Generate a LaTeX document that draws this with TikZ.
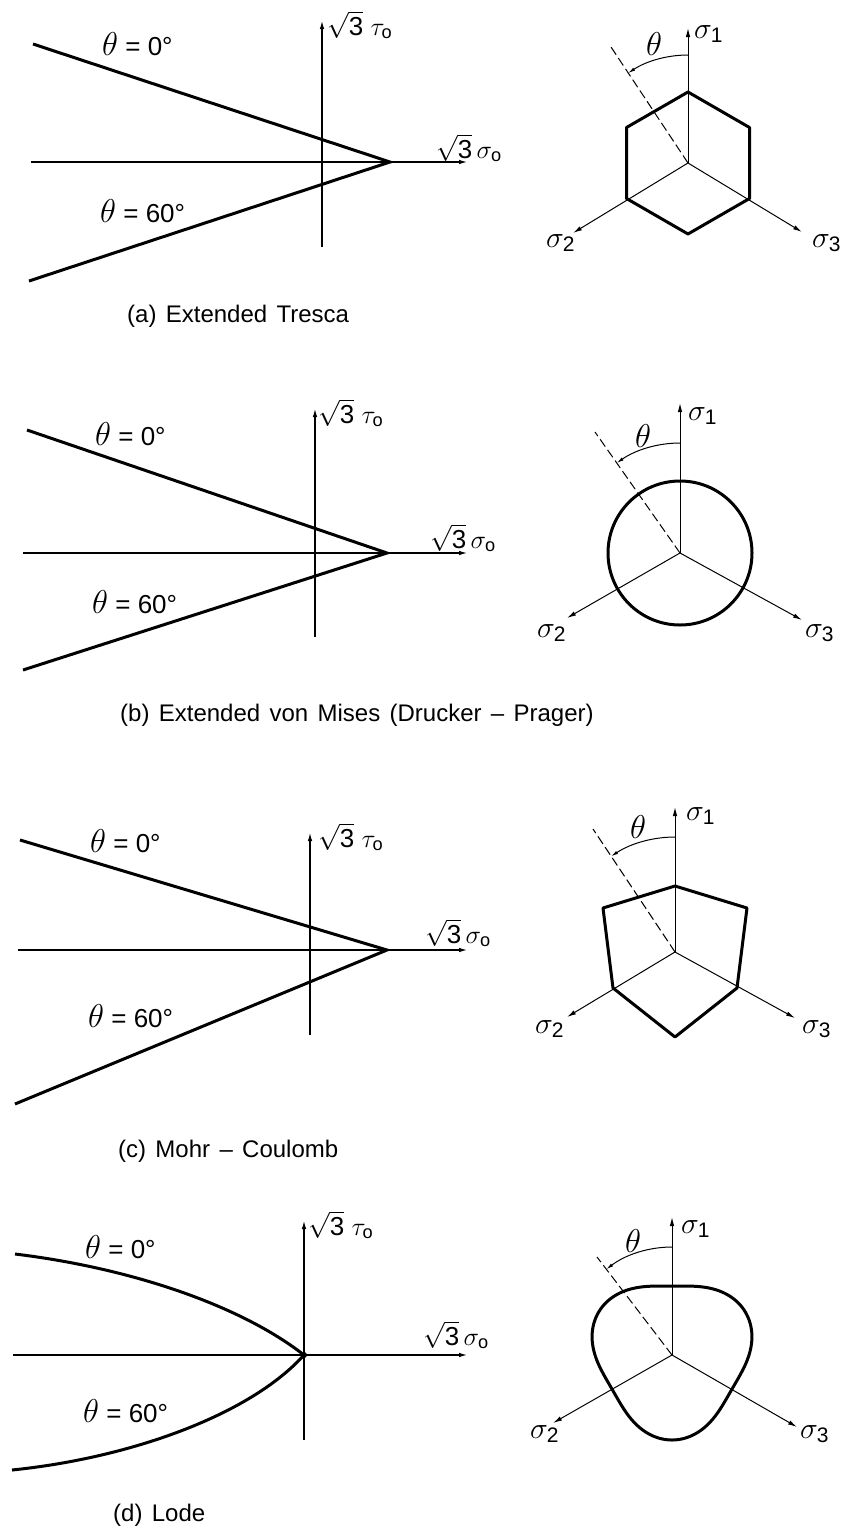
\RequirePackage{fix-cm}
\documentclass[tikz,border=0pt]{standalone}
\usepackage{fontspec}
\setmainfont{Liberation Sans}
\newfontfamily\capfont[WordSpace=1.4]{Liberation Sans}
\usetikzlibrary{arrows.meta}
\newcommand\bigth{{\fontsize{33}{33}\selectfont$\theta$}}
\begin{document}
\begin{tikzpicture}[x=1pt,y=-1pt,
  thickline/.style={line width=3pt},
  axisline/.style={line width=1.6pt},
  thinaxis/.style={line width=1pt},
  arrtip/.style={-{Latex[length=9pt,width=4.5pt]}},
  dashline/.style={line width=1pt, dash pattern=on 9pt off 4pt},
  lbltext/.style={inner sep=0pt, anchor=base west, font=\fontsize{26}{28}\selectfont},
  sigtext/.style={inner sep=0pt, anchor=base west, font=\fontsize{30}{30}\selectfont},
  thtext/.style={inner sep=0pt, anchor=base west, font=\fontsize{33}{33}\selectfont},
  captext/.style={inner sep=0pt, anchor=base west, font=\fontsize{24}{26}\selectfont\capfont},
]
\useasboundingbox (0,0) rectangle (841,1529);

% ================= (a) =================
\coordinate (Ha1) at (31,162); \coordinate (Ha2) at (468,162);
\coordinate (Va1) at (322,247); \coordinate (Va2) at (322,20);
\coordinate (Aa) at (390,162);
\coordinate (Ta0) at (33,44); \coordinate (Ta6) at (29,281);
\draw[axisline,arrtip] (Ha1) -- (Ha2);
\draw[axisline,arrtip] (Va1) -- (Va2);
\draw[thickline,line join=miter] (Ta0) -- (Aa) -- (Ta6);
\node[lbltext] (la0) at (102,55) {\bigth{} = 0°};
\node[lbltext] (la6) at (100,222) {\bigth{} = 60°};
\node[lbltext] (lat) at (327,35) {$\sqrt{\mathrm{3}}\;\tau_{\mathrm{o}}$};
\node[lbltext] (las) at (436,158) {$\sqrt{\mathrm{3}}\,\sigma_{\mathrm{o}}$};

\coordinate (Oa) at (688,163);
\coordinate (S1a) at (688,28); \coordinate (S2a) at (573,233); \coordinate (S3a) at (802,232);
\coordinate (Da) at (611,47);
\draw[thickline,line join=round] (688,92) -- (626.5,127.5) -- (626.5,198.5) -- (688,234) -- (749.5,198.5) -- (749.5,127.5) -- cycle;
\draw[thinaxis,arrtip] (Oa) -- (S1a);
\draw[thinaxis,arrtip] (Oa) -- (S2a);
\draw[thinaxis,arrtip] (Oa) -- (S3a);
\draw[dashline] (Oa) -- (Da);
\draw[thinaxis,-{Latex[length=7pt,width=3.5pt]}] (688,55) arc[start angle=-90, end angle=-123.6, radius=108];
\node[thtext] (tha) at (646,55) {$\theta$};
\node[sigtext] (s1a) at (694,38) {$\sigma_{\mathrm{1}}$};
\node[sigtext] (s2a) at (546,247) {$\sigma_{\mathrm{2}}$};
\node[sigtext] (s3a) at (812,247) {$\sigma_{\mathrm{3}}$};
\node[captext] (capa) at (127,322) {(a) Extended Tresca};

% ================= (b) =================
\coordinate (Hb1) at (23,553); \coordinate (Hb2) at (468,553);
\coordinate (Vb1) at (315,637); \coordinate (Vb2) at (315,408);
\coordinate (Ab) at (387,553);
\coordinate (Tb0) at (27,430); \coordinate (Tb6) at (23,670);
\draw[axisline,arrtip] (Hb1) -- (Hb2);
\draw[axisline,arrtip] (Vb1) -- (Vb2);
\draw[thickline,line join=miter] (Tb0) -- (Ab) -- (Tb6);
\node[lbltext] (lb0) at (95,445) {\bigth{} = 0°};
\node[lbltext] (lb6) at (92,613) {\bigth{} = 60°};
\node[lbltext] (lbt) at (318,423) {$\sqrt{\mathrm{3}}\;\tau_{\mathrm{o}}$};
\node[lbltext] (lbs) at (430,548) {$\sqrt{\mathrm{3}}\,\sigma_{\mathrm{o}}$};

\coordinate (Ob) at (680,553);
\coordinate (S1b) at (680,403); \coordinate (S2b) at (567,618); \coordinate (S3b) at (802,620);
\coordinate (Db) at (595,432);
\draw[thickline] (Ob) circle[radius=72];
\draw[thinaxis,arrtip] (Ob) -- (S1b);
\draw[thinaxis,arrtip] (Ob) -- (S2b);
\draw[thinaxis,arrtip] (Ob) -- (S3b);
\draw[dashline] (Ob) -- (Db);
\draw[thinaxis,-{Latex[length=7pt,width=3.5pt]}] (680,443) arc[start angle=-90, end angle=-125.1, radius=110];
\node[thtext] (thb) at (635,447) {$\theta$};
\node[sigtext] (s1b) at (688,420) {$\sigma_{\mathrm{1}}$};
\node[sigtext] (s2b) at (537,637) {$\sigma_{\mathrm{2}}$};
\node[sigtext] (s3b) at (805,637) {$\sigma_{\mathrm{3}}$};
\node[captext] (capb) at (120,721) {(b) Extended von Mises (Drucker – Prager)};

% ================= (c) =================
\coordinate (Hc1) at (18,950); \coordinate (Hc2) at (468,950);
\coordinate (Vc1) at (310,1035); \coordinate (Vc2) at (310,832);
\coordinate (Ac) at (387,950);
\coordinate (Tc0) at (20,840); \coordinate (Tc6) at (15,1104);
\draw[axisline,arrtip] (Hc1) -- (Hc2);
\draw[axisline,arrtip] (Vc1) -- (Vc2);
\draw[thickline,line join=miter] (Tc0) -- (Ac) -- (Tc6);
\node[lbltext] (lc0) at (90,852) {\bigth{} = 0°};
\node[lbltext] (lc6) at (88,1027) {\bigth{} = 60°};
\node[lbltext] (lct) at (318,847) {$\sqrt{\mathrm{3}}\;\tau_{\mathrm{o}}$};
\node[lbltext] (lcs) at (425,943) {$\sqrt{\mathrm{3}}\,\sigma_{\mathrm{o}}$};

\coordinate (Oc) at (675,952);
\coordinate (S1c) at (675,807); \coordinate (S2c) at (567,1017); \coordinate (S3c) at (795,1018);
\coordinate (Dc) at (593,829);
\draw[thickline,line join=round] (675,886) -- (603,908) -- (613,988) -- (675,1037) -- (737,988) -- (747,908) -- cycle;
\draw[thinaxis,arrtip] (Oc) -- (S1c);
\draw[thinaxis,arrtip] (Oc) -- (S2c);
\draw[thinaxis,arrtip] (Oc) -- (S3c);
\draw[dashline] (Oc) -- (Dc);
\draw[thinaxis,-{Latex[length=7pt,width=3.5pt]}] (675,837) arc[start angle=-90, end angle=-123.7, radius=115];
\node[thtext] (thc) at (630,838) {$\theta$};
\node[sigtext] (s1c) at (686,820) {$\sigma_{\mathrm{1}}$};
\node[sigtext] (s2c) at (535,1033) {$\sigma_{\mathrm{2}}$};
\node[sigtext] (s3c) at (802,1033) {$\sigma_{\mathrm{3}}$};
\node[captext] (capc) at (118,1157) {(c) Mohr – Coulomb};

% ================= (d) =================
\coordinate (Hd1) at (13,1355); \coordinate (Hd2) at (468,1355);
\coordinate (Vd1) at (304,1440); \coordinate (Vd2) at (304,1220);
\coordinate (Ad) at (304,1355);
\coordinate (Td0) at (15,1254); \coordinate (Td6) at (12,1470);
\draw[axisline,arrtip] (Hd1) -- (Hd2);
\draw[axisline,arrtip] (Vd1) -- (Vd2);
\draw[thickline] (Td0) .. controls (130,1268) and (240,1305) .. (Ad);
\draw[thickline] (Td6) .. controls (130,1458) and (250,1415) .. (Ad);
\fill (Ad) circle[radius=3];
\node[lbltext] (ld0) at (85,1258) {\bigth{} = 0°};
\node[lbltext] (ld6) at (83,1422) {\bigth{} = 60°};
\node[lbltext] (ldt) at (308,1235) {$\sqrt{\mathrm{3}}\;\tau_{\mathrm{o}}$};
\node[lbltext] (lds) at (423,1345) {$\sqrt{\mathrm{3}}\,\sigma_{\mathrm{o}}$};

\coordinate (Od) at (672,1355);
\coordinate (S1d) at (672,1217); \coordinate (S2d) at (553,1423); \coordinate (S3d) at (797,1427);
\coordinate (Dd) at (597,1257);
\begin{scope}[shift={(672,1355)}]
\draw[thickline] plot[domain=0:360, samples=181, variable=\t] (\t:{77-8*sin(3*\t)}) -- cycle;
\end{scope}
\draw[thinaxis,arrtip] (Od) -- (S1d);
\draw[thinaxis,arrtip] (Od) -- (S2d);
\draw[thinaxis,arrtip] (Od) -- (S3d);
\draw[dashline] (Od) -- (Dd);
\draw[thinaxis,-{Latex[length=7pt,width=3.5pt]}] (672,1247) arc[start angle=-90, end angle=-127.4, radius=108];
\node[thtext] (thd) at (625,1252) {$\theta$};
\node[sigtext] (s1d) at (681,1233) {$\sigma_{\mathrm{1}}$};
\node[sigtext] (s2d) at (530,1438) {$\sigma_{\mathrm{2}}$};
\node[sigtext] (s3d) at (800,1438) {$\sigma_{\mathrm{3}}$};
\node[captext] (capd) at (113,1521) {(d) Lode};
\end{tikzpicture}
\end{document}
